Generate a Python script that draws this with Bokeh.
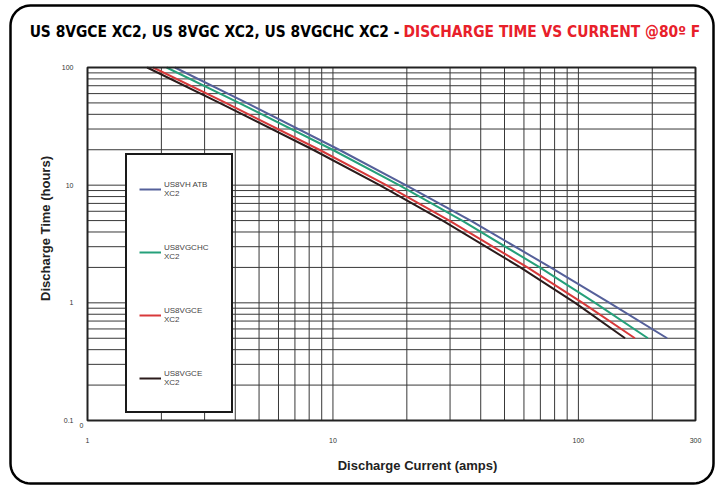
from bokeh.plotting import figure
from bokeh.models import (Range1d, FixedTicker, CustomJSTickFormatter, Legend, LegendItem,
                          Label, PolyAnnotation, BoxAnnotation)
from bokeh.embed import file_html
from bokeh.resources import INLINE
import numpy as np

# ---- data ----
hours = [100, 50, 20, 10, 5, 2, 1, 0.5]
current_vh_atb = [2.27, 4.45, 10.6, 19.8, 36.4, 77, 134, 230]
current_vgchc = [2.1, 4.14, 9.96, 18.6, 33.6, 69.6, 117, 192]
current_vgce_red = [1.85, 3.66, 8.8, 16.5, 29.8, 62, 104, 170]
current_vgce_blk = [1.75, 3.45, 8.3, 15.5, 28, 58, 97, 155]

x_ticks = [1, 10, 100, 300]
y_ticks = [0.1, 1, 10, 100]
series_names = ["US8VH ATB\nXC2", "US8VGCHC\nXC2", "US8VGCE\nXC2", "US8VGCE\nXC2"]
title_black = "US 8VGCE XC2, US 8VGC XC2, US 8VGCHC XC2 -"
title_red = "DISCHARGE TIME VS CURRENT @80\u00ba F"
x_label = "Discharge Current (amps)"
y_label = "Discharge Time (hours)"

# ---- layout geometry (canvas pixels) ----
W, H = 715, 486
CL, CR, CT, CB = 87, 695, 67, 420          # chart area edges
lx0, lx1 = np.log10(x_ticks[0]), np.log10(x_ticks[-1])
ly0, ly1 = np.log10(y_ticks[0]), np.log10(y_ticks[-1])
dx = (CR - CL) / (lx1 - lx0)
dy = (CB - CT) / (ly1 - ly0)
x_range = Range1d(10 ** (lx0 - CL / dx), 10 ** (lx1 + (W - CR) / dx))
y_range = Range1d(10 ** (ly0 - (H - CB) / dy), 10 ** (ly1 + CT / dy))

p = figure(width=W, height=H, x_axis_type="log", y_axis_type="log",
           x_range=x_range, y_range=y_range,
           output_backend="svg", toolbar_location=None, min_border=0)
p.background_fill_color = "white"
p.border_fill_color = "white"
p.outline_line_color = None
p.xgrid.visible = False
p.ygrid.visible = False

xminor = [m * d for d in (1, 10, 100) for m in range(2, 10) if m * d < 300]
yminor = [m * d for d in (0.1, 1, 10) for m in range(2, 10)]

# grid lines (from tick values), limited to chart area
vx = sorted(xminor + x_ticks[1:-1])
hy = sorted(yminor + y_ticks[1:-1])
p.multi_line(xs=[[v, v] for v in vx], ys=[[y_ticks[0], y_ticks[-1]]] * len(vx),
             line_color="#383838", line_width=1)
p.multi_line(xs=[[x_ticks[0], x_ticks[-1]]] * len(hy), ys=[[v, v] for v in hy],
             line_color="#383838", line_width=1)
p.add_layout(BoxAnnotation(left=x_ticks[0], right=x_ticks[-1], bottom=y_ticks[0], top=y_ticks[-1],
                           fill_alpha=0, line_color="#222222", line_alpha=1, line_width=2))

# axes drawn at chart edges
p.xaxis.fixed_location = y_ticks[0]
p.yaxis.fixed_location = x_ticks[0]
p.xaxis.bounds = (x_ticks[0], x_ticks[-1])
p.yaxis.bounds = (y_ticks[0], y_ticks[-1])
p.xaxis.ticker = FixedTicker(ticks=x_ticks, minor_ticks=xminor)
p.yaxis.ticker = FixedTicker(ticks=y_ticks, minor_ticks=yminor)
p.xaxis.formatter = CustomJSTickFormatter(code="return String(Math.round(tick*10)/10);")
p.yaxis.formatter = CustomJSTickFormatter(code="return String(Math.round(tick*10)/10);")
for ax in (p.xaxis[0], p.yaxis[0]):
    ax.axis_line_color = None
    ax.major_tick_line_color = None
    ax.minor_tick_line_color = None
    ax.major_label_text_font = "Liberation Sans"
    ax.major_label_text_font_size = "7px"
    ax.major_label_text_color = "#333333"
p.xaxis.major_label_standoff = 11
p.yaxis.major_label_standoff = 8

colors = ["#55609a", "#25a07a", "#d8393a", "#2b1b1b"]
currents = [current_vh_atb, current_vgchc, current_vgce_red, current_vgce_blk]
renderers = [None] * 4
for i in [3, 2, 1, 0]:
    renderers[i] = p.line(currents[i], hours, line_color=colors[i], line_width=2)

legend = Legend(items=[LegendItem(label=series_names[i], renderers=[renderers[i]]) for i in range(4)],
                location=(125, H - 413), orientation="vertical")
legend.padding = 12
legend.spacing = 20
legend.label_height = 43
legend.label_width = 55
legend.glyph_width = 22
legend.label_standoff = 3
legend.label_text_font = "Liberation Sans"
legend.label_text_font_size = "8px"
legend.label_text_color = "#444444"
legend.border_line_color = "#1a1a1a"
legend.border_line_alpha = 1
legend.border_line_width = 2
legend.background_fill_color = "white"
legend.background_fill_alpha = 1
p.add_layout(legend, "center")

def lab(x, y, text, **kw):
    p.add_layout(Label(x=x, y=H - y, x_units="screen", y_units="screen", text=text, **kw))

TF = "DejaVu Sans Condensed, Liberation Sans Narrow, Roboto, sans-serif"
# title
lab(399, 31, title_black, text_font=TF, text_font_style="bold",
    text_font_size="15.4px", text_color="black", text_align="right", text_baseline="alphabetic")
lab(403, 31, title_red, text_font=TF, text_font_style="bold",
    text_font_size="15.4px", text_color="#e8202a", text_align="left", text_baseline="alphabetic")
# axis titles
lab(417, 465, x_label, text_font="Liberation Sans", text_font_style="bold",
    text_font_size="13px", text_color="#222222", text_align="center", text_baseline="middle")
lab(45, 228, y_label, text_font="Liberation Sans", text_font_style="bold",
    text_font_size="13px", text_color="#222222", text_align="center", text_baseline="middle",
    angle=np.pi / 2)
lab(79, 425, "0", text_font="Liberation Sans", text_font_size="7px", text_color="#333333",
    text_align="left", text_baseline="middle")

# rounded outer border (decoration)
X0, X1, Y0, Y1, r = 10, 713, 5, 483, 20
bx, by = [], []
def arc(cx, cy, a0, a1):
    for t in np.linspace(a0, a1, 12):
        bx.append(cx + r * np.cos(t))
        by.append(H - (cy - r * np.sin(t)))
arc(X1 - r, Y0 + r, 0, np.pi / 2)
arc(X0 + r, Y0 + r, np.pi / 2, np.pi)
arc(X0 + r, Y1 - r, np.pi, 1.5 * np.pi)
arc(X1 - r, Y1 - r, 1.5 * np.pi, 2 * np.pi)
p.add_layout(PolyAnnotation(xs=bx, ys=by, xs_units="screen", ys_units="screen",
                            fill_alpha=0, line_color="black", line_alpha=1, line_width=2.5))

open("out.html", "w").write(file_html(p, INLINE))
